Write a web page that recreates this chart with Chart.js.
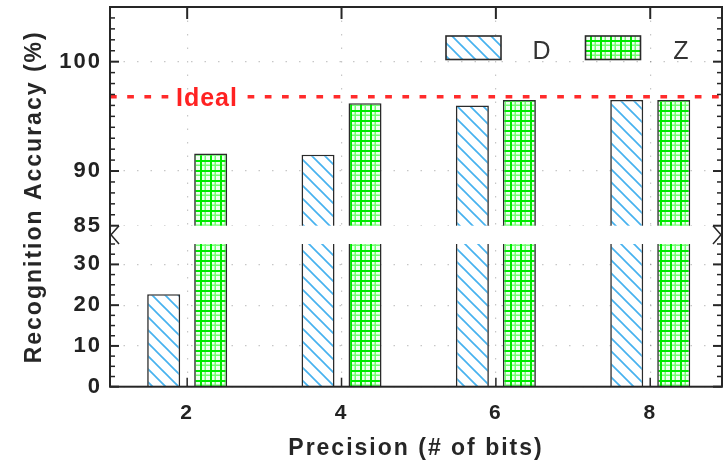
<!DOCTYPE html>
<html>
<head>
<meta charset="utf-8">
<style>
  html, body { margin: 0; padding: 0; background: #fff; }
  #wrap { width: 727px; height: 463px; }
</style>
<script src="https://cdn.jsdelivr.net/npm/chart.js"></script>
</head>
<body>
<div id="wrap"><canvas id="chart" width="727" height="463"></canvas></div>
<script>
// Recognition accuracy against weight precision for the D and Z variants
const PRECISION_BITS = [2, 4, 6, 8];
const ACCURACY_D = [22.7, 91.5, 96.0, 96.5];
const ACCURACY_Z = [91.6, 96.2, 96.5, 96.5];
const IDEAL_ACCURACY = 96.8;
const SERIES_NAMES = ['D', 'Z'];

// Tick labels on both sides of the axis break, and on the x axis
const Y_TICKS_LOWER = [0, 10, 20, 30];
const Y_TICKS_UPPER = [85, 90, 100];
const X_TICKS = [2, 4, 6, 8];
const LOW_MINOR_STEP = 2.5;
const HIGH_MINOR_STEP = 1;

// Broken y axis: 0-35 under the break, 85-105 above it
const LOW_MAX = 35, HIGH_MIN = 85, HIGH_MAX = 105;
const LOW_SHARE = 0.3758, GAP_SHARE = 0.0482;
const HIGH_SHARE = 1 - LOW_SHARE - GAP_SHARE;

const FONT = "'Liberation Sans', Arial, Helvetica, sans-serif";

// Linear scale whose value range is split in two segments with a gap between them
class BrokenLinearScale extends Chart.LinearScale {
  valueToDecimal(v) {
    if (v <= LOW_MAX) return v / LOW_MAX * LOW_SHARE;
    if (v < HIGH_MIN) return LOW_SHARE + (v - LOW_MAX) / (HIGH_MIN - LOW_MAX) * GAP_SHARE;
    return LOW_SHARE + GAP_SHARE + (v - HIGH_MIN) / (HIGH_MAX - HIGH_MIN) * HIGH_SHARE;
  }
  decimalToValue(d) {
    if (d <= LOW_SHARE) return d / LOW_SHARE * LOW_MAX;
    if (d < LOW_SHARE + GAP_SHARE) return LOW_MAX + (d - LOW_SHARE) / GAP_SHARE * (HIGH_MIN - LOW_MAX);
    return HIGH_MIN + (d - LOW_SHARE - GAP_SHARE) / HIGH_SHARE * (HIGH_MAX - HIGH_MIN);
  }
  getPixelForValue(v) {
    return v === null ? NaN : this.getPixelForDecimal(this.valueToDecimal(v));
  }
  getValueForPixel(p) {
    return this.decimalToValue(this.getDecimalForPixel(p));
  }
}
BrokenLinearScale.id = 'brokenLinear';
Chart.register(BrokenLinearScale);

function makeHatch() {
  const n = 13;
  const t = document.createElement('canvas');
  t.width = t.height = n;
  const g = t.getContext('2d');
  g.fillStyle = '#fff';
  g.fillRect(0, 0, n, n);
  g.strokeStyle = '#47b2ef';
  g.lineWidth = 1.7;
  for (const o of [-n, 0, n]) {
    g.beginPath();
    g.moveTo(o - 1, -1);
    g.lineTo(o + n + 1, n + 1);
    g.stroke();
  }
  return g.createPattern(t, 'repeat');
}

function makeGrid() {
  const n = 10;
  const t = document.createElement('canvas');
  t.width = t.height = n;
  const g = t.getContext('2d');
  g.fillStyle = '#effff0';
  g.fillRect(0, 0, n, n);
  g.fillStyle = '#70ff70';
  g.fillRect(0, 4.5, n, 1.5);
  g.fillRect(4.5, 0, 1.5, n);
  g.fillStyle = '#00ea00';
  g.fillRect(0, 0, n, 2);
  g.fillRect(0, 0, 2, n);
  return g.createPattern(t, 'repeat');
}

const FILLS = [makeHatch(), makeGrid()];
const SERIES = [ACCURACY_D, ACCURACY_Z];

function line(ctx, x0, y0, x1, y1, w) {
  ctx.lineWidth = w;
  ctx.beginPath();
  ctx.moveTo(x0, y0);
  ctx.lineTo(x1, y1);
  ctx.stroke();
}

// Frame, inward ticks, axis break, reference line and legend
const framePlugin = {
  id: 'frame',
  beforeDraw(chart) {
    chart.ctx.letterSpacing = '2px';
  },
  afterDatasetsDraw(chart) {
    const { ctx, chartArea: a, scales: { x, y } } = chart;
    ctx.save();
    ctx.letterSpacing = '0px';

    // blank band across the break
    const gTop = y.getPixelForValue(HIGH_MIN);
    const gBot = y.getPixelForValue(LOW_MAX);
    ctx.fillStyle = '#fff';
    ctx.fillRect(a.left, gTop, a.right - a.left, gBot - gTop);

    // ideal accuracy reference line
    const iy = y.getPixelForValue(IDEAL_ACCURACY);
    ctx.strokeStyle = '#ff2b2b';
    ctx.setLineDash([6.7, 10.5]);
    line(ctx, a.left, iy, a.right, iy, 3.5);
    ctx.setLineDash([]);
    ctx.font = 'bold 25px ' + FONT;
    ctx.letterSpacing = '1px';
    const lx = a.left + 66;
    const tw = ctx.measureText('Ideal').width;
    ctx.fillStyle = '#fff';
    ctx.fillRect(lx - 6, iy - 6, tw + 13, 12);
    ctx.fillStyle = '#ff2222';
    ctx.textAlign = 'left';
    ctx.textBaseline = 'alphabetic';
    ctx.fillText('Ideal', lx, iy + 9.3);
    ctx.letterSpacing = '0px';

    // frame
    ctx.strokeStyle = '#262626';
    ctx.lineWidth = 2;
    ctx.strokeRect(a.left, a.top, a.right - a.left, a.bottom - a.top);

    // y ticks pointing inward on both sides
    const majors = [...Y_TICKS_LOWER, ...Y_TICKS_UPPER];
    const minors = [];
    for (let v = LOW_MINOR_STEP; v <= LOW_MAX + 1e-9; v += LOW_MINOR_STEP) {
      if (!majors.includes(v)) minors.push(v);
    }
    for (let v = HIGH_MIN + HIGH_MINOR_STEP; v < HIGH_MAX - 1e-9; v += HIGH_MINOR_STEP) {
      if (!majors.includes(v)) minors.push(v);
    }
    for (const v of majors) {
      const py = y.getPixelForValue(v);
      line(ctx, a.left, py, a.left + 9, py, 2);
      line(ctx, a.right, py, a.right - 9, py, 2);
    }
    for (const v of minors) {
      const py = y.getPixelForValue(v);
      line(ctx, a.left, py, a.left + 5, py, 1.5);
      line(ctx, a.right, py, a.right - 5, py, 1.5);
    }

    // x ticks on top and bottom edges
    for (const v of X_TICKS) {
      const px = x.getPixelForValue(v);
      line(ctx, px, a.top, px, a.top + 12, 2);
      line(ctx, px, a.bottom, px, a.bottom - 9, 1.5);
    }

    // break marks
    const gMid = (gTop + gBot) / 2;
    ctx.lineWidth = 1.5;
    ctx.beginPath();
    ctx.moveTo(a.left + 9, gTop);
    ctx.lineTo(a.left + 1, gMid);
    ctx.lineTo(a.left + 9, gBot);
    ctx.moveTo(a.right - 9, gTop);
    ctx.lineTo(a.right - 1, gMid);
    ctx.lineTo(a.right - 9, gBot);
    ctx.stroke();

    // legend
    ctx.font = '25px ' + FONT;
    ctx.textAlign = 'center';
    ctx.textBaseline = 'alphabetic';
    SERIES_NAMES.forEach((name, i) => {
      const bx = a.left + 336 + i * 139.5;
      const by = a.top + 29;
      ctx.fillStyle = FILLS[i];
      ctx.fillRect(bx, by, 55, 23.5);
      ctx.strokeStyle = '#2a2a2a';
      ctx.lineWidth = 1.6;
      ctx.strokeRect(bx, by, 55, 23.5);
      ctx.fillStyle = '#333';
      ctx.fillText(name, bx + 95.5, a.top + 52);
    });

    ctx.restore();
  }
};

const axisFont = (size, weight) => ({ family: FONT, size, weight });

new Chart(document.getElementById('chart'), {
  type: 'bar',
  data: {
    datasets: SERIES_NAMES.map((name, i) => ({
      label: name,
      data: PRECISION_BITS.map((b, k) => ({ x: b, y: SERIES[i][k] })),
      backgroundColor: FILLS[i],
      borderColor: '#2a2a2a',
      borderWidth: 1.6
    }))
  },
  options: {
    responsive: false,
    animation: false,
    devicePixelRatio: 1,
    categoryPercentage: 0.609,
    barPercentage: 0.702,
    layout: { padding: { top: 7, right: 5, bottom: 0, left: 0 } },
    plugins: { legend: { display: false }, tooltip: { enabled: false } },
    scales: {
      x: {
        type: 'linear',
        min: 1,
        max: 8.93,
        offset: false,
        afterBuildTicks: s => { s.ticks = X_TICKS.map(v => ({ value: v })); },
        afterFit: s => { s.height = 76.3; s.paddingLeft = 0; s.paddingRight = 0; },
        ticks: {
          callback: v => String(v),
          font: axisFont(21, 'bold'),
          color: '#222',
          padding: 13.7,
          maxRotation: 0,
          autoSkip: false
        },
        grid: { color: 'rgba(0,0,0,0.22)', lineWidth: 1.2, drawTicks: false, offset: false },
        border: { display: false, dash: [1.5, 12] },
        title: {
          display: true,
          text: 'Precision (# of bits)',
          font: axisFont(23, 'bold'),
          color: '#262626',
          padding: { top: 0, bottom: 0.6 }
        }
      },
      y: {
        type: 'brokenLinear',
        min: 0,
        max: HIGH_MAX,
        afterBuildTicks: s => { s.ticks = [...Y_TICKS_LOWER, ...Y_TICKS_UPPER].map(v => ({ value: v })); },
        afterFit: s => { s.width = 110; s.paddingTop = 0; s.paddingBottom = 0; },
        ticks: {
          callback: v => String(v),
          font: axisFont(22, 'bold'),
          color: '#222',
          padding: 8,
          autoSkip: false
        },
        grid: { color: 'rgba(0,0,0,0.22)', lineWidth: 1.2, drawTicks: false },
        border: { display: false, dash: [1.5, 12] },
        title: {
          display: true,
          text: 'Recognition Accuracy (%)',
          font: axisFont(23, 'bold'),
          color: '#262626',
          padding: { top: 20.8, bottom: 0 }
        }
      }
    }
  },
  plugins: [framePlugin]
});
</script>
</body>
</html>
